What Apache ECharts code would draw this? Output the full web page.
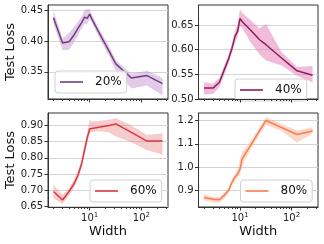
<!DOCTYPE html>
<html>
<head>
<meta charset="utf-8">
<script src="https://cdn.jsdelivr.net/npm/echarts@6/dist/echarts.min.js"></script>
<style>
html,body{margin:0;padding:0;background:#fff;}
#c{width:324px;height:244px;}
</style>
</head>
<body>
<div id="c"></div>
<script>
// ---- data ----
const widths = [2,3,4,5,6,7,8,9,10,11,16,24,32,64,128,256];
const labels = ['20%','40%','60%','80%'];

const loss20 = [0.438,0.397,0.399,0.410,0.421,0.430,0.439,0.437,0.444,0.436,0.410,0.383,0.363,0.340,0.344,0.331];
const lo20   = [0.428,0.385,0.386,0.398,0.410,0.421,0.428,0.428,0.436,0.430,0.402,0.375,0.352,0.323,0.328,0.312];
const hi20   = [0.450,0.404,0.413,0.423,0.432,0.440,0.450,0.452,0.452,0.443,0.417,0.391,0.369,0.347,0.352,0.340];

const loss40 = [0.522,0.522,0.534,0.560,0.581,0.603,0.627,0.637,0.663,0.657,0.640,0.620,0.610,0.583,0.557,0.548];
const lo40   = [0.509,0.510,0.524,0.550,0.572,0.594,0.612,0.625,0.648,0.645,0.615,0.590,0.578,0.568,0.547,0.534];
const hi40   = [0.534,0.531,0.543,0.569,0.590,0.612,0.640,0.650,0.682,0.675,0.660,0.643,0.652,0.595,0.565,0.567];

const loss60 = [0.696,0.670,0.696,0.720,0.748,0.782,0.825,0.862,0.889,0.891,0.895,0.900,0.905,0.879,0.852,0.852];
const lo60   = [0.675,0.658,0.684,0.708,0.735,0.770,0.810,0.848,0.875,0.880,0.882,0.878,0.866,0.848,0.824,0.810];
const hi60   = [0.716,0.686,0.706,0.732,0.762,0.796,0.840,0.878,0.918,0.912,0.915,0.918,0.922,0.900,0.871,0.876];

const loss80 = [0.870,0.862,0.860,0.880,0.900,0.935,0.958,0.970,0.990,1.035,1.092,1.156,1.200,1.170,1.140,1.155];
const lo80   = [0.857,0.848,0.847,0.866,0.888,0.920,0.942,0.955,0.970,1.005,1.075,1.140,1.180,1.155,1.104,1.143];
const hi80   = [0.885,0.872,0.872,0.892,0.912,0.950,0.972,0.990,1.030,1.065,1.110,1.170,1.214,1.185,1.157,1.171];

const yTicks = [[0.35,0.40,0.45],[0.50,0.55,0.60,0.65],[0.65,0.70,0.75,0.80,0.85,0.90],[0.9,1.0,1.1,1.2]];
const yRanges = [[0.306,0.4586],[0.4999,0.6905],[0.6482,0.9386],[0.829,1.232]];
const yDecimals = [2,2,2,1];
const xMajorTicks = [10,100];
const xMinorTicks = [2,3,4,5,6,7,8,9,20,30,40,50,60,70,80,90,200,300];

// ---- styles ----
const lineColors = ['#6e3f80','#8e1f5c','#d8383f','#f97d50'];
const bandColors = ['rgba(200,150,212,0.5)','rgba(228,122,182,0.5)','rgba(236,140,140,0.45)','rgba(250,170,140,0.45)'];
const FONT = 'DejaVu Sans';

const means = [loss20,loss40,loss60,loss80];
const lows = [lo20,lo40,lo60,lo80];
const highs = [hi20,hi40,hi60,hi80];

const lw = widths.map(w => Math.log10(w));
const span = lw[lw.length-1] - lw[0];
const xMin = lw[0] - 0.05*span;
const xMax = lw[lw.length-1] + 0.05*span;

const grids = [
  {left:48, top:5, width:120, height:94},
  {left:198.5, top:5, width:119.5, height:94},
  {left:48, top:113, width:120, height:94},
  {left:198.5, top:113, width:119.5, height:94}
];
const legendPos = [[55,71],[235,79],[90,180],[240.5,180]];

const option = {
  animation:false,
  backgroundColor:'#fff',
  grid: grids.map(g => Object.assign({show:true, borderColor:'#333', borderWidth:1, backgroundColor:'transparent'}, g)),
  xAxis: [],
  yAxis: [],
  series: [],
  legend: []
};

for (let i=0;i<4;i++){
  const bottomRow = i>=2;
  option.xAxis.push({
    type:'value', gridIndex:i, min:xMin, max:xMax, position:'bottom', z:5,
    axisLine:{show:true, lineStyle:{color:'#333', width:1}},
    axisTick:{show:true, length:3.5, customValues: xMajorTicks.map(v=>Math.log10(v)), lineStyle:{color:'#333'}},
    axisLabel:{show:bottomRow, customValues: xMajorTicks.map(v=>Math.log10(v)), margin:5,
      formatter: v => '{b|10}{s|' + Math.round(v) + '}',
      rich:{b:{fontSize:10, fontFamily:FONT, color:'#222'}, s:{fontSize:7, fontFamily:FONT, color:'#222', padding:[0,0,6,0]}}},
    splitLine:{show:false},
    name: bottomRow ? 'Width' : '', nameLocation:'middle', nameGap:18,
    nameTextStyle:{fontSize:13, fontFamily:FONT, color:'#111'}
  });
}
for (let i=0;i<4;i++){
  option.xAxis.push({
    type:'value', gridIndex:i, min:xMin, max:xMax, position:'bottom', z:5,
    axisLine:{show:false},
    axisTick:{show:true, length:2, customValues: xMinorTicks.map(v=>Math.log10(v)), lineStyle:{color:'#333'}},
    axisLabel:{show:false},
    splitLine:{show:false}
  });
}
for (let i=0;i<4;i++){
  const leftCol = (i%2)===0;
  option.yAxis.push({
    type:'value', gridIndex:i, min:yRanges[i][0], max:yRanges[i][1], z:1,
    axisLine:{show:true, lineStyle:{color:'#333'}},
    axisTick:{show:true, length:3.5, customValues:yTicks[i], lineStyle:{color:'#333'}},
    axisLabel:{customValues:yTicks[i], margin:5, fontSize:10, fontFamily:FONT, color:'#222',
      formatter: v => Number(v).toFixed(yDecimals[i])},
    splitLine:{show:true, lineStyle:{color:'#d4d4d4', width:1}},
    name: leftCol ? 'Test Loss' : '', nameLocation:'middle', nameGap:31,
    nameTextStyle:{fontSize:13, fontFamily:FONT, color:'#111'}
  });
}
for (let i=0;i<4;i++){
  const bandData = lw.map((x,k)=>[x, lows[i][k], highs[i][k]]);
  const meanPts = lw.map((x,k)=>[x, means[i][k]]);
  option.series.push({
    type:'custom', name:'_band'+i, xAxisIndex:i, yAxisIndex:i, data:bandData, silent:true, clip:true,
    encode:{x:0, y:[1,2]},
    renderItem:(params, api) => {
      if (params.dataIndex !== 0) return null;
      const upper = bandData.map(d => api.coord([d[0], d[2]]));
      const lower = bandData.map(d => api.coord([d[0], d[1]])).reverse();
      return {type:'polygon', shape:{points: upper.concat(lower)}, style:{fill:bandColors[i], stroke:'none'}};
    }
  });
  option.series.push({
    type:'line', name:labels[i], xAxisIndex:i, yAxisIndex:i, data:meanPts, z:3,
    symbol:'none', color:lineColors[i], lineStyle:{color:lineColors[i], width:1.5}
  });
  option.legend.push({
    data:[labels[i]], left:legendPos[i][0], top:legendPos[i][1],
    icon:'rect', itemWidth:23, itemHeight:1.6, padding:[4,5,4,5],
    backgroundColor:'rgba(255,255,255,0.8)', borderColor:'#d0d0d0', borderWidth:1, borderRadius:3,
    textStyle:{fontSize:12, fontFamily:FONT, color:'#111', padding:[0,0,0,7], lineHeight:14},
    selectedMode:false
  });
}

const chart = echarts.init(document.getElementById('c'), null, {renderer:'canvas'});
chart.setOption(option);
</script>
</body>
</html>
